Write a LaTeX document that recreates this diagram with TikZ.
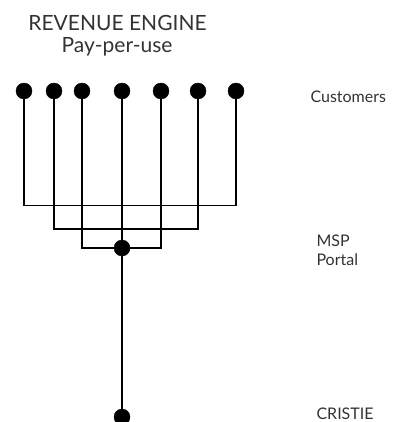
\documentclass[tikz,border=0pt]{standalone}
\usepackage{fontspec}
\setmainfont{Lato}
\usepackage{xcolor}
\usepackage{tikz}

\definecolor{inkgray}{HTML}{333333}
\tikzset{
  dot/.style={draw,circle,fill,inner sep=0pt,minimum size=16pt},
  wire/.style={line width=1.4pt},
  heading/.style={text=inkgray,font=\fontsize{21}{25}\selectfont},
  tierlabel/.style={text=inkgray,anchor=base west,align=left,font=\fontsize{16}{19}\selectfont}
}

\begin{document}
\begin{tikzpicture}[x=1pt,y=-1pt]

    \useasboundingbox (0,0) rectangle (398,422);
          % Fixes the page to the picture size.

    \node[heading] (rev) at (117.5,23) {REVENUE ENGINE};
    \node[heading] (ppu) at (117,47) {Pay-per-use};

    \foreach \n/\x in {1/24,2/54,3/82,4/122,5/161,6/198,7/236}{% one dot
        \node[dot] (c\n) at (\x,91) {};% per customer
    }
    \node[dot] (msp) at (122,248) {};
    \node[dot] (cristie) at (122,417) {};

    \foreach \a/\b/\y in {1/7/205.5,2/6/229,3/5/248}{% pairs of customers
        \draw[wire] (c\a.center) -- (c\a.center |- 0,\y) -- (c\b.center |- 0,\y) -- (c\b.center);
            % joined by a bracket underneath
    }
    \draw[wire] (c4.center) -- (msp.center) -- (cristie.center);

		\node[tierlabel] (cust) at (307,103) {Customers};
		\node[tierlabel] (portal) at (313,265) {MSP\\Portal};
		\node[tierlabel] (cri) at (313,419) {CRISTIE};

\end{tikzpicture}
\end{document}
